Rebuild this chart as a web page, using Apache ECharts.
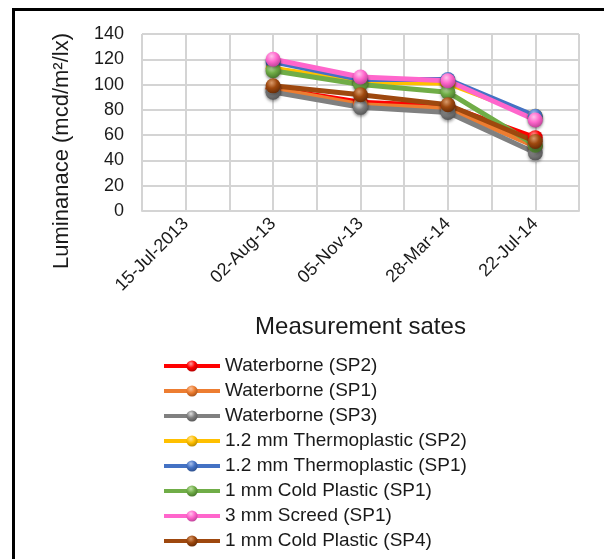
<!DOCTYPE html>
<html lang="en">
  <head>
    <meta charset="UTF-8" />
    <title>Luminance chart</title>
    <script src="https://cdn.jsdelivr.net/npm/echarts@6/dist/echarts.min.js"></script>
    <style>
      html, body { margin: 0; padding: 0; background: #fff; }
      #lumChart { width: 604px; height: 559px; }
    </style>
  </head>
  <body>
    <div id="lumChart"></div>
    <script>
      var dateLabels = ['15-Jul-2013', '02-Aug-13', '05-Nov-13', '28-Mar-14', '22-Jul-14'];
      var yTicks = [0, 20, 40, 60, 80, 100, 120, 140];

      var seriesNames = [
        'Waterborne (SP2)',
        'Waterborne (SP1)',
        'Waterborne (SP3)',
        '1.2 mm Thermoplastic (SP2)',
        '1.2 mm Thermoplastic (SP1)',
        '1 mm Cold Plastic (SP1)',
        '3 mm Screed (SP1)',
        '1 mm Cold Plastic (SP4)'
      ];
      var waterborneSP2 = [null, 97, 86, 83, 58];
      var waterborneSP1 = [null, 97, 84, 81, 51];
      var waterborneSP3 = [null, 94, 82, 78, 46];
      var thermoSP2 = [null, 113, 102, 101, 75];
      var thermoSP1 = [null, 118, 104, 104, 75];
      var coldSP1 = [null, 111, 100, 94, 52];
      var screedSP1 = [null, 120, 106, 103, 72];
      var coldSP4 = [null, 99, 92, 84, 55];

      var seriesValues = [waterborneSP2, waterborneSP1, waterborneSP3, thermoSP2, thermoSP1, coldSP1, screedSP1, coldSP4];
      var lineColors = ['#ff0000', '#ed7d31', '#808080', '#ffc000', '#4472c4', '#70ad47', '#ff66cc', '#9e480e'];
      var ballLight = ['#ff9a9a', '#f8c29c', '#e0e0e0', '#ffe39a', '#a9c0ec', '#bfe0a6', '#ffc2ec', '#d99a6a'];
      var ballDark = ['#a00000', '#9a4a15', '#4d4d4d', '#a87e00', '#27477f', '#3f6a25', '#b03a8c', '#5a2605'];

      var fontName = "'Liberation Sans', Arial, sans-serif";

      lumChart();

      function lumChart() {
        var el = document.getElementById('lumChart');
        var chart = echarts.init(el);

        var series = [];
        for (var i = 0; i < seriesNames.length; i++) {
          var pts = [];
          for (var j = 0; j < seriesValues[i].length; j++) {
            var v = seriesValues[i][j];
            pts.push([j, v == null ? '-' : v]);
          }
          series.push({
            name: seriesNames[i],
            type: 'line',
            data: pts,
            symbol: 'circle',
            symbolSize: 15,
            lineStyle: { color: lineColors[i], width: 5 },
            itemStyle: {
              // 구 모양 마커
              color: new echarts.graphic.RadialGradient(0.4, 0.3, 0.8, [
                { offset: 0, color: ballLight[i] },
                { offset: 0.45, color: lineColors[i] },
                { offset: 1, color: ballDark[i] }
              ]),
              borderWidth: 0,
              shadowColor: 'rgba(0,0,0,0.35)',
              shadowBlur: 3,
              shadowOffsetY: 2
            },
            emphasis: { disabled: true }
          });
        }

        var option = {
          animation: false,
          graphic: [
            {
              type: 'rect',
              shape: { x: 13.5, y: 9.5, width: 640, height: 600 },
              style: { fill: 'none', stroke: '#000', lineWidth: 3 },
              silent: true
            },
            {
              // y축 제목 (원본은 그리드 중앙보다 아래쪽)
              type: 'text',
              x: 62,
              y: 151,
              rotation: Math.PI / 2,
              silent: true,
              style: {
                text: 'Luminanace (mcd/m\u00b2/lx)',
                fill: '#1a1a1a',
                font: "22px 'Liberation Sans', Arial, sans-serif",
                align: 'center',
                verticalAlign: 'middle'
              }
            }
          ],
          grid: { left: 142, right: 25, top: 34, bottom: 348 },
          legend: {
            orient: 'vertical',
            left: 157,
            top: 351,
            height: 210,
            itemWidth: 56,
            itemHeight: 14,
            itemGap: 5,
            selectedMode: false,
            lineStyle: { width: 4 },
            textStyle: {
              color: '#1a1a1a',
              fontSize: 19,
              lineHeight: 20,
              fontFamily: fontName
            },
            data: seriesNames
          },
          xAxis: {
            type: 'value',
            min: -0.5,
            max: 4.5,
            interval: 0.5,
            name: 'Measurement sates',
            nameLocation: 'middle',
            nameGap: 104,
            nameTextStyle: { color: '#1a1a1a', fontSize: 24, fontFamily: fontName },
            axisLine: { show: true, lineStyle: { color: '#d4d4d4', width: 2 } },
            axisTick: { show: false },
            axisLabel: {
              rotate: 45,
              margin: 10,
              color: '#1a1a1a',
              fontSize: 18,
              fontFamily: fontName,
              showMinLabel: true,
              showMaxLabel: true,
              formatter: function (val) {
                var k = Math.round(val * 2);
                if (k % 2 !== 0) return '';
                return dateLabels[k / 2] || '';
              }
            },
            splitLine: { show: true, lineStyle: { color: '#d4d4d4', width: 2 } }
          },
          yAxis: {
            type: 'value',
            min: yTicks[0],
            max: yTicks[yTicks.length - 1],
            interval: yTicks[1] - yTicks[0],
            axisLine: { show: false },
            axisTick: { show: false },
            axisLabel: {
              margin: 18,
              color: '#1a1a1a',
              fontSize: 18,
              fontFamily: fontName
            },
            splitLine: { show: true, lineStyle: { color: '#d4d4d4', width: 2 } }
          },
          series: series
        };

        chart.setOption(option);
      }
    </script>
  </body>
</html>
